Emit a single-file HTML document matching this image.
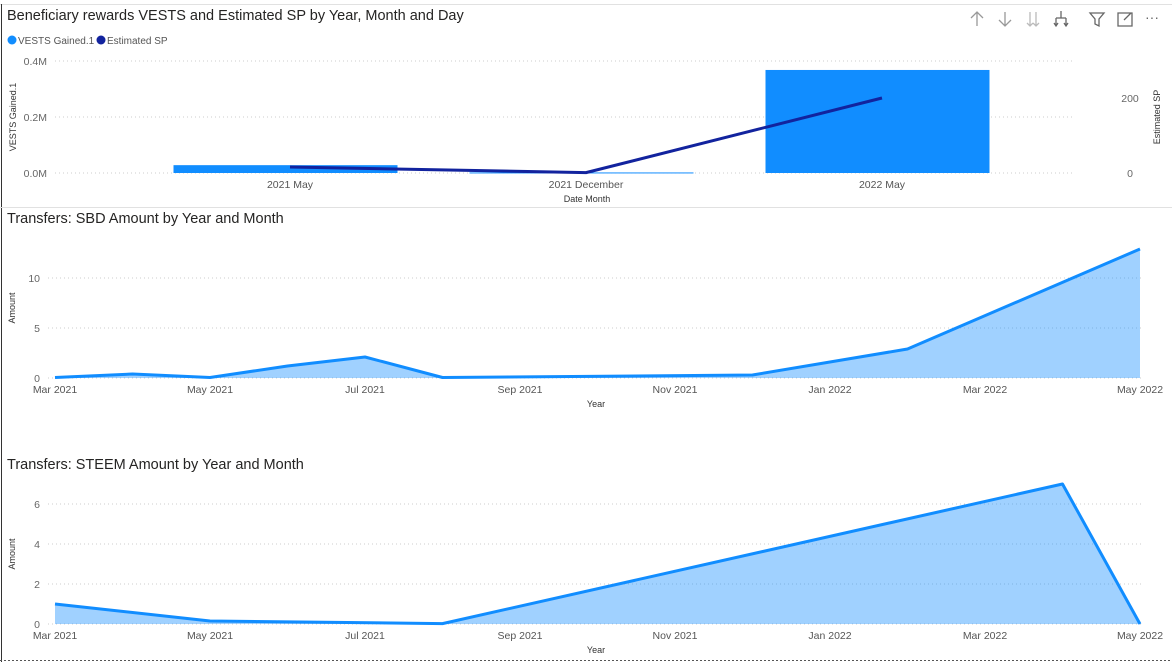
<!DOCTYPE html>
<html><head><meta charset="utf-8">
<style>
html,body{margin:0;padding:0;background:#fff;}
body{width:1172px;height:662px;overflow:hidden;font-family:"Liberation Sans",sans-serif;}
svg text{font-family:"Liberation Sans",sans-serif;}
</style></head>
<body>
<svg id="root" width="1172" height="662" viewBox="0 0 1172 662" xmlns="http://www.w3.org/2000/svg">
<rect x="0" y="0" width="1172" height="662" fill="#fff"/>
<line x1="0" y1="4.5" x2="1172" y2="4.5" stroke="#e1e1e1"/>
<line x1="1.5" y1="4" x2="1.5" y2="662" stroke="#333"/>
<line x1="0" y1="207.5" x2="1172" y2="207.5" stroke="#e1e1e1"/>
<line x1="0" y1="660.5" x2="1172" y2="660.5" stroke="#555" stroke-dasharray="2,2"/>

<g>
<text x="7" y="20" font-size="14.5" fill="#252423">Beneficiary rewards VESTS and Estimated SP by Year, Month and Day</text>
<g>
<circle cx="12" cy="40" r="4.5" fill="#118dff"/>
<text x="18" y="44" font-size="10" fill="#555">VESTS Gained.1</text>
<circle cx="101" cy="40" r="4.5" fill="#12239e"/>
<text x="107" y="44" font-size="10" fill="#555">Estimated SP</text>
</g>
<g stroke="#999" fill="none" stroke-width="1.3">
<path d="M977 12 L977 26 M971 18 L977 12 L983 18"/>
<path d="M1005 12 L1005 26 M999 20 L1005 26 L1011 20"/>
<path d="M1030 12 L1030 26 M1036 12 L1036 26 M1027 23 L1030 26 L1033 23 M1033 23 L1036 26 L1039 23" stroke="#bbb"/>
<path d="M1061 11 L1061 18 M1056 18 L1066 18 M1056 18 L1056 26 M1066 18 L1066 26 M1054 23 L1056 26 L1058 23 M1064 23 L1066 26 L1068 23" stroke="#666"/>
<path d="M1090 13 L1104 13 L1099 19 L1099 26 L1095 24 L1095 19 Z" stroke="#666"/>
<path d="M1118 13 L1132 13 L1132 26 L1118 26 Z M1124 20 L1131 13" stroke="#666"/>
<text x="1145" y="22" font-size="14" fill="#666" stroke="none">···</text>
</g>
<g id="c1grid"></g>
<g id="c1bars"></g>
<g id="c1line"></g>
<g id="c1axes"></g>
<text transform="translate(16,117) rotate(-90)" text-anchor="middle" font-size="9" fill="#333">VESTS Gained.1</text>
<text transform="translate(1160,117) rotate(-90)" text-anchor="middle" font-size="9" fill="#333">Estimated SP</text>
<text x="587" y="202" text-anchor="middle" font-size="9" fill="#333">Date Month</text>
</g>

<g>
<text x="7" y="223" font-size="14.5" fill="#252423">Transfers: SBD Amount by Year and Month</text>
<g id="c2"></g>
<text transform="translate(15,308) rotate(-90)" text-anchor="middle" font-size="9" fill="#333">Amount</text>
<text x="596" y="407" text-anchor="middle" font-size="9" fill="#333">Year</text>
</g>

<g>
<text x="7" y="469" font-size="14.5" fill="#252423">Transfers: STEEM Amount by Year and Month</text>
<g id="c3"></g>
<text transform="translate(15,554) rotate(-90)" text-anchor="middle" font-size="9" fill="#333">Amount</text>
<text x="596" y="653" text-anchor="middle" font-size="9" fill="#333">Year</text>
</g>
</svg>
<script>
// Chart 1 data
const c1Categories = ["2021 May", "2021 December", "2022 May"];
const c1Vests = [0.028, 0.002, 0.368]; // millions
const c1SP = [16, 1, 200];
const c1LeftTicks = [0, 0.2, 0.4];
const c1LeftTickLabels = ["0.0M", "0.2M", "0.4M"];
const c1RightTicks = [0, 200];

// Chart 2 data (month index from Mar 2021)
const sbdMonths = [0, 1, 2, 3, 4, 5, 9, 11, 14];
const sbdValues = [0.05, 0.4, 0.05, 1.2, 2.1, 0.05, 0.3, 2.9, 12.9];
const sbdTicks = [0, 5, 10];

// Chart 3 data
const steemMonths = [0, 2, 5, 13, 14];
const steemValues = [1.0, 0.15, 0.02, 7.0, 0.0];
const steemTicks = [0, 2, 4, 6];

const xTickMonths = [0, 2, 4, 6, 8, 10, 12, 14];
const xTickLabels = ["Mar 2021","May 2021","Jul 2021","Sep 2021","Nov 2021","Jan 2022","Mar 2022","May 2022"];

const NS = "http://www.w3.org/2000/svg";
function mk(parent, tag, attrs) {
  const e = document.createElementNS(NS, tag);
  for (const k in attrs) e.setAttribute(k, attrs[k]);
  parent.appendChild(e);
  return e;
}

// ---- Chart 1
(function(){
  const y0 = 173, yTop = 61;
  const yL = v => y0 - (v / 0.4) * (y0 - yTop);
  const yR = v => y0 - (v / 200) * 75;
  const step = 296, x0 = 142;
  const xC = i => x0 + step * (i + 0.5);
  const bw = 224, barShift = -4.5;
  const grid = document.getElementById('c1grid');
  const axes = document.getElementById('c1axes');
  c1LeftTicks.forEach((t, i) => {
    const l = mk(grid, 'line', {x1: 55, x2: 1072, y1: yL(t), y2: yL(t), stroke: '#ccc', 'stroke-dasharray': '1,3'});
    
    
    const tx = mk(axes, 'text', {x: 47, y: yL(t) + 4, 'text-anchor': 'end', 'font-size': 10.5, fill: '#666'});
    tx.textContent = c1LeftTickLabels[i];
    
    
  });
  c1RightTicks.forEach(t => {
    const tx = mk(axes, 'text', {x: 1130, y: yR(t) + 4, 'text-anchor': 'middle', 'font-size': 10.5, fill: '#666'});
    tx.textContent = String(t);
    
    
  });
  const bars = document.getElementById('c1bars');
  c1Vests.forEach((v, i) => {
    const top = yL(v);
    const r = mk(bars, 'rect', {x: xC(i) - bw/2 + barShift, y: top, width: bw, height: Math.max(1, y0 - top), fill: '#118dff'});
    
    
    const tx = mk(axes, 'text', {x: xC(i), y: 188, 'text-anchor': 'middle', 'font-size': 10.5, fill: '#555'});
    tx.textContent = c1Categories[i];
    
    
  });
  const pts = c1SP.map((v, i) => xC(i) + ',' + yR(v)).join(' ');
  const pl = mk(document.getElementById('c1line'), 'polyline', {points: pts, fill: 'none', stroke: '#12239e', 'stroke-width': 3, 'stroke-linejoin': 'round'});
  
  
})();

function areaChart(gid, months, values, ticks, y0, pxPerUnit) {
  const g = document.getElementById(gid);
  const x = m => 55 + m * (1140 - 55) / 14;
  const y = v => y0 - v * pxPerUnit;
  ticks.forEach(t => {
    const l = mk(g, 'line', {x1: 48, x2: 1143, y1: y(t), y2: y(t), stroke: '#ccc', 'stroke-dasharray': '1,3'});
    
    
    const tx = mk(g, 'text', {x: 40, y: y(t) + 4, 'text-anchor': 'end', 'font-size': 10.5, fill: '#666'});
    tx.textContent = String(t);
    
    
  });
  xTickMonths.forEach((m, i) => {
    const tx = mk(g, 'text', {x: x(m), y: y0 + 15, 'text-anchor': 'middle', 'font-size': 10.5, fill: '#555'});
    tx.textContent = xTickLabels[i];
    
    
  });
  const pts = months.map((m, i) => x(m) + ',' + y(values[i]));
  const area = mk(g, 'polygon', {points: x(months[0]) + ',' + y0 + ' ' + pts.join(' ') + ' ' + x(months[months.length-1]) + ',' + y0, fill: '#118dff', 'fill-opacity': 0.4});
  
  
  const line = mk(g, 'polyline', {points: pts.join(' '), fill: 'none', stroke: '#118dff', 'stroke-width': 3, 'stroke-linejoin': 'round'});
  
  
}
areaChart('c2', sbdMonths, sbdValues, sbdTicks, 378, 10);
areaChart('c3', steemMonths, steemValues, steemTicks, 624, 20);
</script>
</body></html>
